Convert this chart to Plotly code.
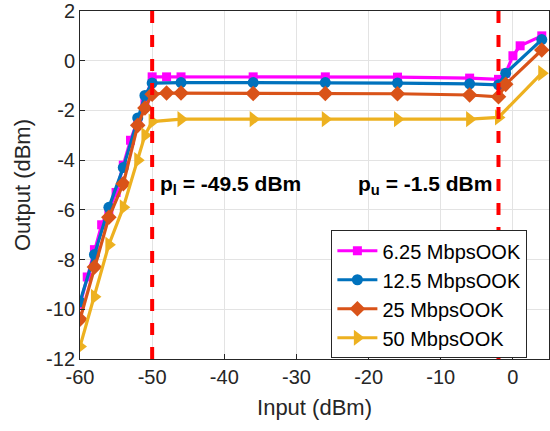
import plotly.graph_objects as go

# Data
x_625 = [-60, -59, -58, -57, -56, -55, -54, -53, -52, -51, -50, -48, -46, -36, -26, -16, -6, -2, -1, 0, 1, 4]
y_625 = [-9.8, -8.7, -7.6, -6.6, -6.0, -5.3, -4.2, -3.2, -2.4, -1.7, -0.65, -0.65, -0.65, -0.65, -0.65, -0.66, -0.7, -0.75, -0.5, 0.2, 0.6, 1.0]

x_125 = [-60, -58, -56, -54, -52, -51, -50, -46, -36, -26, -16, -6, -2, -1, 4]
y_125 = [-9.7, -7.8, -5.9, -4.3, -2.3, -1.4, -0.9, -0.88, -0.88, -0.88, -0.9, -0.93, -0.97, -0.5, 0.85]

x_25 = [-60, -58, -56, -54, -52, -51, -50, -48, -46, -36, -26, -16, -6, -2, -1, 4]
y_25 = [-10.4, -8.3, -6.3, -4.95, -2.6, -1.9, -1.35, -1.3, -1.3, -1.32, -1.32, -1.33, -1.38, -1.45, -0.95, 0.43]

x_50 = [-60, -58, -56, -54, -52, -51, -50, -46, -36, -26, -16, -6, -2, 4]
y_50 = [-11.5, -9.5, -7.4, -5.9, -4.0, -3.0, -2.45, -2.35, -2.35, -2.35, -2.35, -2.35, -2.28, -0.5]

p_lower = -50
p_upper = -2
labels = ["6.25 MbpsOOK", "12.5 MbpsOOK", "25 MbpsOOK", "50 MbpsOOK"]

x_ticks = [-60, -50, -40, -30, -20, -10, 0]
y_ticks = [-12, -10, -8, -6, -4, -2, 0, 2]

fig = go.Figure()
series = [
    (x_625, y_625, "#FF00FF", "square", 9),
    (x_125, y_125, "#0072BD", "circle", 11),
    (x_25, y_25, "#D95319", "diamond", 12),
    (x_50, y_50, "#EDB120", "triangle-right", 14),
]
for (xs, ys, col, sym, ms), name in zip(series, labels):
    fig.add_trace(go.Scatter(
        x=xs, y=ys, name=name, mode="lines+markers",
        line=dict(color=col, width=3.2),
        marker=dict(symbol=sym, size=ms, color=col),
    ))

# threshold lines
for xv in [p_lower, p_upper]:
    fig.add_shape(type="line", x0=xv, x1=xv, y0=-12, y1=2, xref="x", yref="y",
                  line=dict(color="#FF0000", width=4, dash="dash"))

fig.add_annotation(x=-49.2, y=-5.0, text="<b>p<sub>l</sub> = -49.5 dBm</b>", showarrow=False,
                   xanchor="left", font=dict(size=21, color="black"))
fig.add_annotation(x=-2.6, y=-5.0, text="<b>p<sub>u</sub> = -1.5 dBm</b>", showarrow=False,
                   xanchor="right", font=dict(size=21, color="black"))

axis_common = dict(
    showgrid=True, gridcolor="#E3E3E3", gridwidth=1,
    showline=True, linecolor="#262626", linewidth=1, mirror=True,
    ticks="inside", ticklen=5, tickcolor="#262626",
    tickfont=dict(size=20, color="#262626"), zeroline=False,
    automargin=False, ticklabeloverflow="allow",
)
fig.update_xaxes(range=[-60, 5], tickvals=x_ticks, ticktext=[str(v) for v in x_ticks],
                 title=dict(text="Input (dBm)", font=dict(size=22, color="#262626"), standoff=12),
                 **axis_common)
fig.update_yaxes(range=[-12, 2], tickvals=y_ticks, ticktext=[str(v) for v in y_ticks],
                 title=dict(text="Output (dBm)", font=dict(size=22, color="#262626"), standoff=9),
                 **axis_common)

fig.update_layout(
    width=550, height=431,
    margin=dict(l=80, r=1, t=11, b=72),
    plot_bgcolor="white", paper_bgcolor="white",
    font=dict(family="Liberation Sans, Arial, sans-serif"),
    legend=dict(x=0.536, y=0.37, xanchor="left", yanchor="top",
                bgcolor="white", bordercolor="#262626", borderwidth=1,
                font=dict(size=20, color="black"), tracegroupgap=0,
                itemwidth=40),
)

# drop the default page margin so the figure sits at the window corner
fig.write_html("out.html", config={"displayModeBar": False},
               post_script="document.body.style.margin='0';")
